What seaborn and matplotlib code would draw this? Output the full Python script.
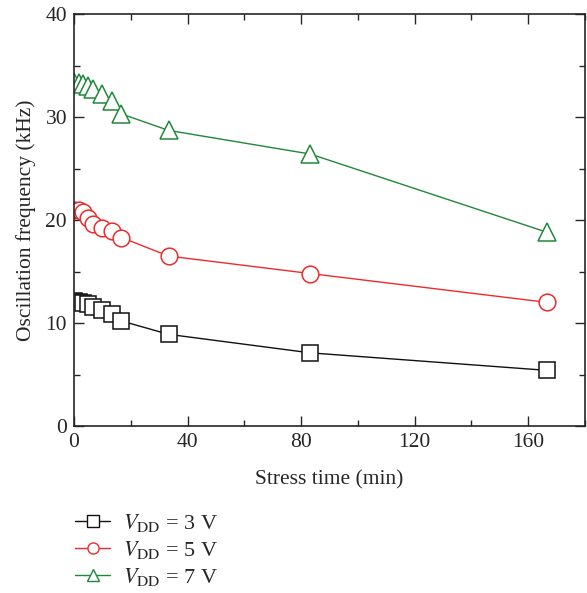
import matplotlib
matplotlib.use("Agg")
import matplotlib.pyplot as plt
from matplotlib.lines import Line2D
from matplotlib.ticker import MultipleLocator
import seaborn as sns
import pandas as pd

stress_time = [0, 1.67, 3.33, 5, 6.67, 10, 13.3, 16.7, 33.3, 83.3, 166.7]
freq_3v = [12.1, 12.0, 11.9, 11.8, 11.6, 11.3, 10.9, 10.2, 8.9, 7.1, 5.4]
freq_5v = [21.0, 21.0, 20.8, 20.2, 19.6, 19.2, 18.9, 18.3, 16.5, 14.8, 12.0]
freq_7v = [33.4, 33.3, 33.2, 33.0, 32.7, 32.2, 31.6, 30.3, 28.7, 26.4, 18.8]
labels = [r"$V_{\mathrm{DD}}$ = 3 V", r"$V_{\mathrm{DD}}$ = 5 V", r"$V_{\mathrm{DD}}$ = 7 V"]
colors = ["#111111", "#ee2b2b", "#21883a"]
markers = ["s", "o", "^"]

sns.set_style("ticks")
plt.rcParams["font.family"] = ["Liberation Serif", "DejaVu Serif"]
plt.rcParams["mathtext.fontset"] = "stix"

fig = plt.figure(figsize=(5.87, 5.93), dpi=100)
ax = fig.add_axes([74 / 587, 1 - 426 / 593, (585 - 74) / 587, (426 - 14) / 593])

series = [freq_3v, freq_5v, freq_7v]
handles = []
for vals, lab, col, mk in zip(series, labels, colors, markers):
    df = pd.DataFrame({"t": stress_time, "f": vals})
    ms = 12 if mk != "^" else 13
    sns.lineplot(data=df, x="t", y="f", ax=ax, color=col, marker=mk,
                 markersize=ms, markerfacecolor="white", markeredgecolor=col,
                 markeredgewidth=1.1, linewidth=1.0, legend=False)
    handles.append(Line2D([], [], color=col, marker=mk, markersize=8,
                          markerfacecolor="white", markeredgecolor=col,
                          markeredgewidth=1.0, linewidth=1.0, label=lab))

ax.set_xlim(0, 180)
ax.set_ylim(0, 40)
ax.xaxis.set_major_locator(MultipleLocator(40))
ax.xaxis.set_minor_locator(MultipleLocator(20))
ax.yaxis.set_major_locator(MultipleLocator(10))
ax.yaxis.set_minor_locator(MultipleLocator(5))
ax.tick_params(which="both", direction="in", top=True, right=True,
               labelsize=15.5, width=1.0)
ax.tick_params(which="major", length=7, pad=5)
ax.tick_params(which="minor", length=4)
for sp in ax.spines.values():
    sp.set_visible(True)
    sp.set_linewidth(1.2)
ax.set_xlabel("Stress time (min)", fontsize=15.5, labelpad=13)
ax.set_ylabel("Oscillation frequency (kHz)", fontsize=15.5, labelpad=7)

fig.legend(handles=handles, loc="upper left",
           bbox_to_anchor=(66 / 587, 1 - 503 / 593), frameon=False,
           fontsize=16, handlelength=1.6, handletextpad=0.55,
           labelspacing=0.22, borderaxespad=0)

fig.savefig("out.png", dpi=100)
